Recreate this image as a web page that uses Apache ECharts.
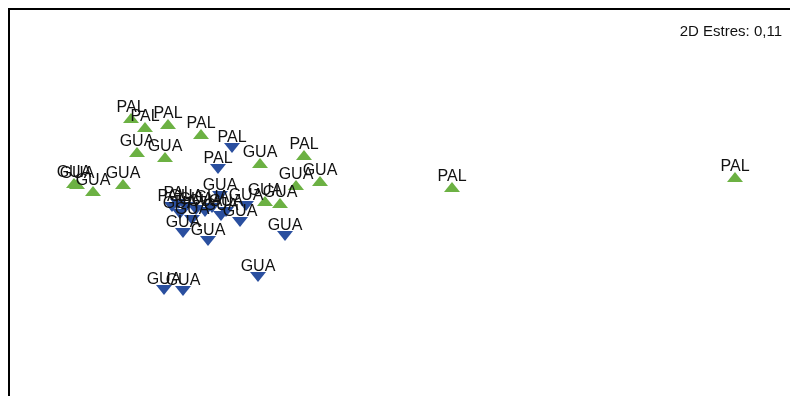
<!DOCTYPE html>
<html>
<head>
<meta charset="utf-8">
<script src="https://cdn.jsdelivr.net/npm/echarts@6/dist/echarts.min.js"></script>
<style>
  html, body { margin: 0; padding: 0; background: #fff; overflow: hidden; }
  #chart { width: 809px; height: 409px; }
</style>
</head>
<body>
<div id="chart"></div>
<script>
// NMDS ordination coordinates, group 1 (green, upward triangles)
const greenX = [-0.595, -0.525, -0.41, -0.245, -0.565, -0.425, -0.88, -0.865, -0.785, -0.635, 0.05, 0.27, 0.23, 0.35, 0.075, 0.15, 1.01, 2.425];
const greenY = [0.41, 0.365, 0.38, 0.33, 0.24, 0.215, 0.085, 0.08, 0.045, 0.08, 0.185, 0.225, 0.075, 0.095, -0.005, -0.015, 0.065, 0.115];
const greenLabels = ['PAL', 'PAL', 'PAL', 'PAL', 'GUA', 'GUA', 'GUA', 'GUA', 'GUA', 'GUA', 'GUA', 'PAL', 'GUA', 'GUA', 'GUA', 'GUA', 'PAL', 'PAL'];

// NMDS ordination coordinates, group 2 (blue, downward triangles)
const blueX = [-0.09, -0.16, -0.15, -0.36, -0.39, -0.32, -0.27, -0.225, -0.19, -0.12, -0.02, -0.35, -0.29, -0.145, -0.05, -0.335, -0.21, 0.175, 0.04, -0.43, -0.335];
const blueY = [0.26, 0.155, 0.02, -0.02, -0.035, -0.035, -0.05, -0.06, -0.04, -0.06, -0.03, -0.07, -0.10, -0.08, -0.11, -0.165, -0.205, -0.18, -0.385, -0.45, -0.455];
const blueLabels = ['PAL', 'PAL', 'GUA', 'PAL', 'PAL', 'GUA', 'GUA', 'GUA', 'GUA', 'GUA', 'GUA', 'GUA', 'GUA', 'GUA', 'GUA', 'GUA', 'GUA', 'GUA', 'GUA', 'GUA', 'GUA'];

const stressText = '2D Estres: 0,11';

function pack(xs, ys, labels) {
  return xs.map((x, i) => [x, ys[i], labels[i]]);
}

const labelStyle = {
  show: true,
  position: 'top',
  distance: -3,
  formatter: p => p.value[2],
  color: '#111',
  fontSize: 16,
  lineHeight: 16,
  fontFamily: 'Liberation Sans, Arial, sans-serif'
};

const chart = echarts.init(document.getElementById('chart'), null, { renderer: 'canvas' });
chart.setOption({
  animation: false,
  backgroundColor: '#fff',
  title: {
    text: stressText,
    right: 22,
    top: 19,
    textStyle: { fontSize: 15, fontWeight: 'normal', color: '#111', fontFamily: 'Liberation Sans, Arial, sans-serif' }
  },
  grid: {
    left: 9, top: 9, right: 0, bottom: 0,
    show: true,
    borderColor: '#000',
    borderWidth: 2,
    backgroundColor: 'transparent'
  },
  xAxis: {
    type: 'value', min: -1.205, max: 2.795,
    show: false, splitLine: { show: false }
  },
  yAxis: {
    type: 'value', min: -1.045, max: 0.955,
    show: false, splitLine: { show: false }
  },
  series: [
    {
      name: 'green',
      type: 'scatter',
      symbol: 'triangle',
      symbolSize: [16, 10],
      itemStyle: { color: '#6cb143', opacity: 1 },
      label: labelStyle,
      data: pack(greenX, greenY, greenLabels)
    },
    {
      name: 'blue',
      type: 'scatter',
      symbol: 'triangle',
      symbolRotate: 180,
      symbolSize: [16, 10],
      itemStyle: { color: '#2a4f9f', opacity: 1 },
      label: labelStyle,
      data: pack(blueX, blueY, blueLabels)
    }
  ]
});
</script>
</body>
</html>
